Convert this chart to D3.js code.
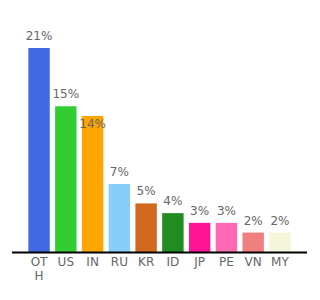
<!DOCTYPE html>
<html>
<head>
<meta charset="utf-8">
<script src="https://cdn.jsdelivr.net/npm/d3@7"></script>
<style>
  html, body { margin: 0; padding: 0; background: #fff; }
  svg text { font-family: "DejaVu Sans", Verdana, sans-serif; }
</style>
</head>
<body>
<div id="chart"></div>
<script>
const countries = ["OTH", "US", "IN", "RU", "KR", "ID", "JP", "PE", "VN", "MY"];
const shares = [21, 15, 14, 7, 5, 4, 3, 3, 2, 2];
const colors = ["#4169e1", "#32cd32", "#ffa500", "#87cefa", "#d2691e",
                "#228b22", "#ff1493", "#ff69b4", "#f08080", "#f5f5dc"];

const width = 320, height = 300;

const svg = d3.select("#chart").append("svg")
    .attr("width", width)
    .attr("height", height);

const x = d3.scaleBand()
    .domain(countries)
    .range([23, 296])
    .padding(0.2);

const y = d3.scaleLinear()
    .domain([0, 21])
    .range([252, 48]);

// bars
svg.selectAll(".bar")
    .data(countries)
    .enter().append("rect")
    .attr("class", "bar")
    .attr("x", d => x(d))
    .attr("width", x.bandwidth())
    .attr("y", (d, i) => y(shares[i]))
    .attr("height", (d, i) => y(0) - y(shares[i]))
    .attr("fill", (d, i) => colors[i]);

// value labels, pushed inside the bar when they would hit the previous label
let prev = null;
countries.forEach((c, i) => {
    const cx = x(c) + x.bandwidth() / 2;
    let ly = y(shares[i]) - 8;
    const t = svg.append("text")
        .attr("x", cx)
        .attr("text-anchor", "middle")
        .attr("font-size", 12)
        .attr("fill", "#666")
        .text(shares[i] + "%");
    const w = t.node().getComputedTextLength();
    if (prev && cx - w / 2 < prev.right + 3 && Math.abs(ly - prev.y) < 14) {
        ly = y(shares[i]) + 12;
    }
    t.attr("y", ly);
    prev = { right: cx + w / 2, y: ly };
});

// axis
const axis = svg.append("g")
    .attr("transform", `translate(0,${y(0)})`)
    .call(d3.axisBottom(x).tickSize(0).tickPadding(5));

axis.select(".domain")
    .attr("d", "M12,0.5H307")
    .attr("stroke", "#000")
    .attr("stroke-width", 2);

axis.selectAll(".tick text")
    .attr("font-size", 12)
    .attr("font-family", "DejaVu Sans, Verdana, sans-serif")
    .attr("fill", "#666")
    .each(function (d) {
        const el = d3.select(this);
        if (this.getComputedTextLength() <= x.bandwidth()) return;
        // wrap by characters
        const chars = d.split("");
        const lines = [];
        let line = "";
        el.text("");
        const probe = el.append("tspan");
        chars.forEach(ch => {
            probe.text(line + ch);
            if (probe.node().getComputedTextLength() > x.bandwidth() && line) {
                lines.push(line);
                line = ch;
            } else {
                line += ch;
            }
        });
        lines.push(line);
        probe.remove();
        el.attr("dy", null);
        lines.forEach((l, k) => {
            el.append("tspan")
                .attr("x", 0)
                .attr("dy", k === 0 ? "0.71em" : "1.2em")
                .text(l);
        });
    });
</script>
</body>
</html>
